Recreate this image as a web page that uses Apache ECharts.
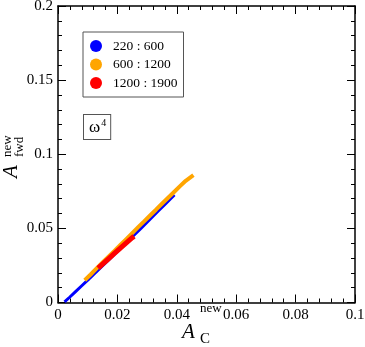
<!DOCTYPE html>
<html>
<head>
<meta charset="utf-8">
<script src="https://cdn.jsdelivr.net/npm/echarts@6/dist/echarts.min.js"></script>
<style>
  html, body { margin: 0; padding: 0; background: #fff; }
  #chart { width: 365px; height: 347px; }
</style>
</head>
<body>
<div id="chart"></div>
<script>
// data
var names = ['220 : 600', '600 : 1200', '1200 : 1900'];
var colors = ['#0000ff', '#ffa500', '#ff0000'];

var blue = [
  [0.0022, 0.0004], [0.0040, 0.0037], [0.0060, 0.0075], [0.0080, 0.0113],
  [0.0100, 0.0151], [0.0120, 0.0190], [0.0140, 0.0229], [0.0160, 0.0267],
  [0.0180, 0.0306], [0.0200, 0.0345], [0.0220, 0.0384], [0.0240, 0.0423],
  [0.0260, 0.0462], [0.0280, 0.0502], [0.0300, 0.0542], [0.0320, 0.0582],
  [0.0340, 0.0622], [0.0360, 0.0662], [0.0380, 0.0702], [0.0392, 0.0726]
];
var orange = [
  [0.0090, 0.0150], [0.0110, 0.0189], [0.0130, 0.0230], [0.0150, 0.0270],
  [0.0170, 0.0309], [0.0190, 0.0348], [0.0210, 0.0388], [0.0230, 0.0428],
  [0.0250, 0.0468], [0.0270, 0.0508], [0.0290, 0.0547], [0.0310, 0.0587],
  [0.0330, 0.0626], [0.0350, 0.0666], [0.0370, 0.0705], [0.0390, 0.0744],
  [0.0410, 0.0783], [0.0430, 0.0821], [0.0456, 0.0859]
];
var red = [
  [0.0135, 0.0232], [0.0150, 0.0259], [0.0170, 0.0295], [0.0190, 0.0331],
  [0.0210, 0.0367], [0.0230, 0.0402], [0.0250, 0.0437], [0.0256, 0.0447]
];

var font = 'Liberation Serif';
var chart = echarts.init(document.getElementById('chart'));

function frameAxis(pos, max, interval, showLabel) {
  return {
    type: 'value',
    position: pos,
    min: 0,
    max: max,
    interval: interval,
    axisLine: { show: true, onZero: false, lineStyle: { color: '#000', width: 1.5 } },
    axisTick: { show: true, inside: true, length: 8, lineStyle: { color: '#000', width: 1 } },
    minorTick: { show: true, splitNumber: 5, length: 4, lineStyle: { color: '#000', width: 1 } },
    splitLine: { show: false },
    axisLabel: {
      show: showLabel,
      color: '#000',
      fontFamily: font,
      fontSize: 15,
      margin: 5
    }
  };
}

function label(txt, x, y, size, italic, rot) {
  return {
    type: 'text',
    x: x,
    y: y,
    rotation: rot || 0,
    style: {
      text: txt,
      font: (italic ? 'italic ' : '') + size + 'px "' + font + '"',
      fill: '#000',
      verticalAlign: 'middle'
    }
  };
}

var option = {
  animation: false,
  backgroundColor: '#fff',
  textStyle: { fontFamily: font },
  grid: { left: 58, right: 10, top: 6, bottom: 44.5, outerBoundsMode: 'none' },
  xAxis: [frameAxis('bottom', 0.1, 0.02, true), frameAxis('top', 0.1, 0.02, false)],
  yAxis: [frameAxis('left', 0.2, 0.05, true), frameAxis('right', 0.2, 0.05, false)],
  legend: {
    orient: 'vertical',
    left: 83,
    top: 32,
    padding: [7, 6, 7, 7],
    borderColor: '#555',
    borderWidth: 1,
    itemWidth: 12,
    itemHeight: 12,
    itemGap: 4.5,
    icon: 'circle',
    data: names,
    textStyle: {
      color: '#000',
      fontFamily: font,
      fontSize: 13.5,
      lineHeight: 13,
      padding: [0, 0, 0, 6]
    }
  },
  graphic: [
    {
      type: 'text',
      left: 83,
      top: 114,
      style: {
        text: '{w|ω}{s|4}',
        fill: '#000',
        backgroundColor: '#fff',
        borderColor: '#555',
        borderWidth: 1,
        padding: [3, 4, 3, 5],
        rich: {
          w: { fontFamily: font, fontSize: 17, lineHeight: 18, verticalAlign: 'bottom' },
          s: { fontFamily: font, fontSize: 10, lineHeight: 18, verticalAlign: 'top', padding: [0, 0, 6, 1] }
        }
      }
    },
    // x axis name: A with stacked "new" and "C"
    label('A', 182, 332, 21, true),
    label('new', 200, 309, 13, false),
    label('C', 200, 339, 15, false),
    // y axis name, turned to read upwards
    label('A', 11, 178, 21, true, Math.PI / 2),
    label('new', 8, 157, 13, false, Math.PI / 2),
    label('fwd', 20, 157, 13, false, Math.PI / 2)
  ],
  series: [
    { name: names[0], type: 'line', data: blue, showSymbol: false, lineStyle: { color: colors[0], width: 3 }, itemStyle: { color: colors[0] }, z: 2 },
    { name: names[1], type: 'line', data: orange, showSymbol: false, lineStyle: { color: colors[1], width: 4 }, itemStyle: { color: colors[1] }, z: 3 },
    { name: names[2], type: 'line', data: red, showSymbol: false, lineStyle: { color: colors[2], width: 5 }, itemStyle: { color: colors[2] }, z: 4 }
  ]
};

chart.setOption(option);
</script>
</body>
</html>
